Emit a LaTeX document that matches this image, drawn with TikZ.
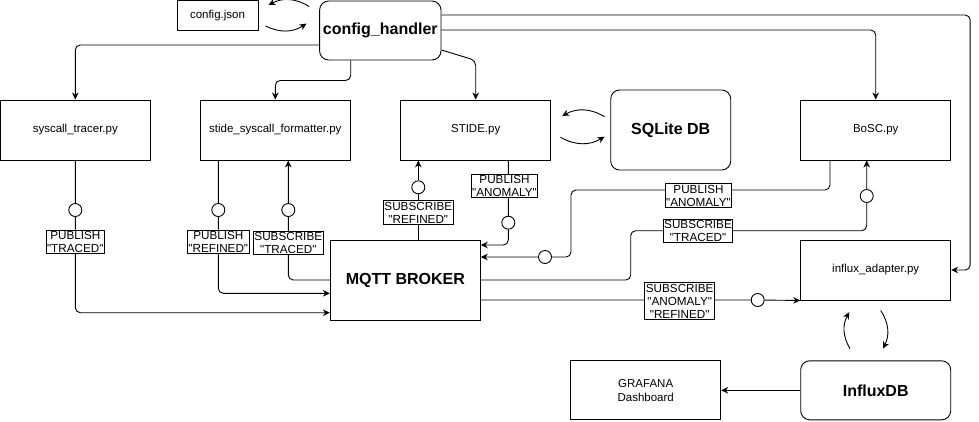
\documentclass[tikz,border=0pt]{standalone}
\usepackage{fontspec}
\setmainfont{Liberation Sans}
\newfontfamily\topicfont{Liberation Sans}
\usetikzlibrary{arrows.meta}
\pgfdeclarelayer{bg}
\pgfsetlayers{bg,main}
\tikzset{
  module/.style={draw,line width=0.9pt,minimum width=150pt,minimum height=60pt,font=\fontsize{11.5}{13.5}\selectfont},
  store/.style={module,rounded corners=9pt,font=\bfseries\fontsize{16}{18}\selectfont},
  tag/.style={draw,fill=white,line width=0.9pt,inner sep=1pt,align=center,font=\topicfont\fontsize{11.7}{13}\selectfont},
  port/.style={circle,draw,fill=white,line width=0.9pt,minimum size=13pt,inner sep=0pt},
  wire/.style={line width=0.9pt,rounded corners=5pt},
  >={Stealth[length=7pt,width=6.5pt]}
}
\begin{document}
\begin{tikzpicture}[x=1pt,y=-1pt]
\useasboundingbox (0,0) rectangle (979,421);
% modules
\node[module,minimum width=81pt,minimum height=30pt] (json) at (217.5,15.5) {config.json};
\node[store,minimum width=119pt,minimum height=59pt] (handler) at (380.3,30.5) {config\_handler};
\node[module] (tracer) at (75.3,130) {syscall\_tracer.py};
\node[module] (formatter) at (275.3,130) {stide\_syscall\_formatter.py};
\node[module] (stide) at (475.7,130) {STIDE.py};
\node[store,minimum width=120pt,minimum height=80pt] (sqlite) at (670.7,130) {SQLite DB};
\node[module] (bosc) at (875.7,130) {BoSC.py};
\node[module] (adapter) at (875.7,270) {influx\_adapter.py};
\node[module,font=\bfseries\fontsize{16}{18}\selectfont,minimum height=80pt] (broker) at (405.3,280) {MQTT BROKER};
\node[module,minimum height=59pt,align=center] (grafana) at (645.7,390.3) {GRAFANA\\Dashboard};
\node[store,minimum height=59pt] (influx) at (875.7,390.3) {InfluxDB};
% ports
\node[port] (pT) at (75.3,210) {};
\node[port] (pFr) at (218.3,210) {};
\node[port] (pFt) at (288.3,210) {};
\node[port] (pSr) at (418.3,187.3) {};
\node[port] (pSa) at (508.3,222.7) {};
\node[port] (pBa) at (545,257) {};
\node[port] (pBt) at (866.7,196) {};
\node[port] (pA) at (757.7,300) {};
% topics
\node[tag] (tT) at (75.3,241.7) {PUBLISH\\"TRACED"};
\node[tag] (tFr) at (218.3,241.7) {PUBLISH\\"REFINED"};
\node[tag] (tFt) at (288.3,243) {SUBSCRIBE\\"TRACED"};
\node[tag] (tSr) at (418.3,212.5) {SUBSCRIBE\\"REFINED"};
\node[tag] (tSa) at (504.5,185.8) {PUBLISH\\"ANOMALY"};
\node[tag] (tBa) at (698.5,195.5) {PUBLISH\\"ANOMALY"};
\node[tag] (tBt) at (698,230.7) {SUBSCRIBE\\"TRACED"};
\node[tag] (tA) at (679.7,301) {SUBSCRIBE\\"ANOMALY"\\"REFINED"};
\coordinate (kBa) at (571,190);
\coordinate (kBt) at (630.7,230.7);
\begin{pgfonlayer}{bg}
\fill[white] (0,0) rectangle (979,421);
% config_handler outputs
\draw[wire,->] ([yshift=-14.5pt]handler.west) -| (tracer.north);
\draw[wire,->] ([xshift=-29.6pt]handler.south) -- ++(0,20) -| (formatter.north);
\draw[wire,->] ([yshift=-19.5pt]handler.east) -- (stide.north |- handler.south) -- (stide.north);
\draw[wire,->] ([yshift=0.5pt]handler.east) -| (bosc.north);
\draw[wire,->] ([yshift=15.5pt]handler.east) -| ([xshift=19pt]adapter.east) -- (adapter.east);
% topics to and from the broker
\draw[wire,->] (tracer.south) -- (pT) -- (tT) |- ([yshift=-32.7pt]broker.west);
\draw[wire,->] ([xshift=-57pt]formatter.south) -- (pFr) -- (tFr) |- ([yshift=-13.3pt]broker.west);
\draw[wire,->] (broker.west) -| (tFt) -- (pFt) -- (pFt |- formatter.south);
\draw[wire,->] (tSr |- broker.north) -- (tSr) -- (pSr) -- (pSr |- stide.south);
\draw[wire,->] (pSa |- stide.south) -- (pSa) |- ([yshift=35pt]broker.east);
\draw[wire,->] ([xshift=-45.7pt]bosc.south) |- (kBa) |- (pBa) -- (pBa -| broker.east);
\draw[wire,->] (broker.east) -| (kBt) -| (pBt) -- (pBt |- bosc.south);
\draw[wire,->] ([yshift=-20pt]broker.east) -- (pA) -- (adapter.south west);
% read and write
\draw[wire,->] ([shift={(-10,6)}]handler.north west) to[bend right=30] ([shift={(10,5)}]json.north east);
\draw[wire,->] ([shift={(7,-5)}]json.south east) to[bend right=30] ([shift={(-12.7,23)}]handler.north west);
\draw[wire,->] ([shift={(-5.7,-13.3)}]sqlite.west) to[bend right=30] ([shift={(11,-14)}]stide.east);
\draw[wire,->] ([shift={(9.3,7.3)}]stide.east) to[bend right=30] ([shift={(-5.7,6.7)}]sqlite.west);
\draw[wire,->] ([shift={(-25.7,-11.7)}]influx.north) to[bend left=30] ([shift={(-26.4,11.7)}]adapter.south);
\draw[wire,->] ([shift={(5,10)}]adapter.south) to[bend left=30] ([shift={(7.3,-11.7)}]influx.north);
\draw[wire,->] (influx) -- (grafana);
\end{pgfonlayer}
\end{tikzpicture}
\end{document}
